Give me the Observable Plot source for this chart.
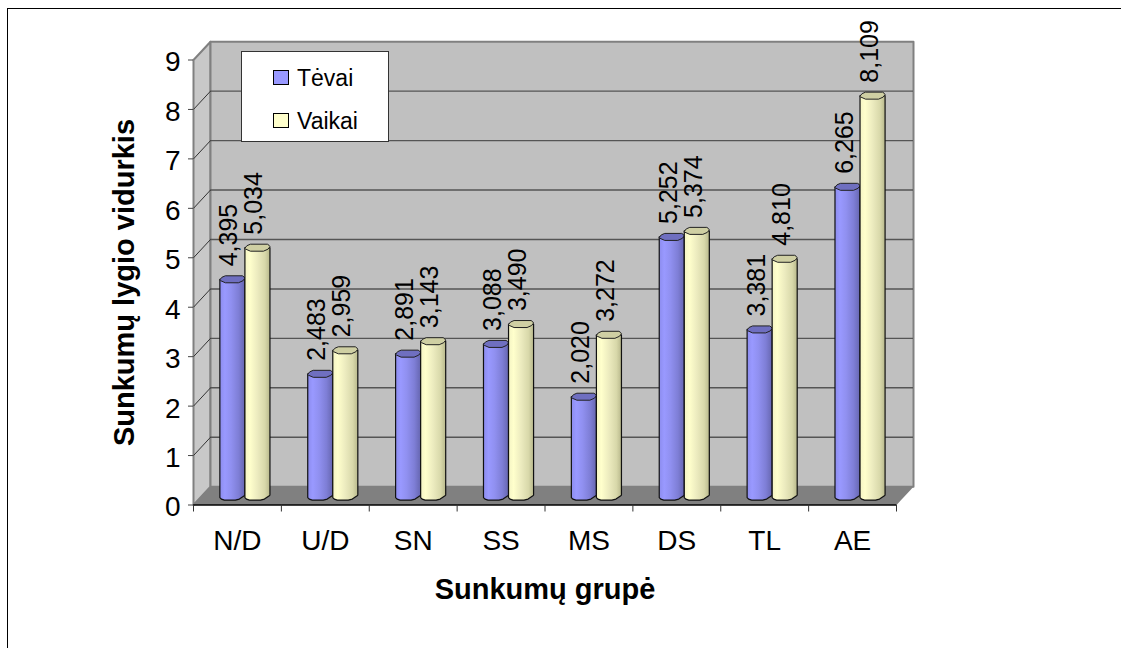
<!DOCTYPE html>
<html><head><meta charset="utf-8">
<script src="https://cdn.jsdelivr.net/npm/d3@7"></script>
<script src="https://cdn.jsdelivr.net/npm/@observablehq/plot@0.6"></script>
<style>
html,body{margin:0;padding:0;background:#fff;width:1121px;height:648px;overflow:hidden}
#wrap{position:relative;width:1121px;height:648px;overflow:hidden}
#border{position:absolute;left:7px;top:8px;width:1200px;height:700px;border:1px solid #000;border-top-width:1.5px;box-sizing:border-box;pointer-events:none}
#legend{position:absolute;left:241px;top:51px;width:148px;height:91px;background:#fff;border:1px solid #333;box-sizing:border-box;font:23px "Liberation Sans",Arial,sans-serif;color:#000}
.sw{position:absolute;left:31px;width:16px;height:15px;border:1px solid #000;box-sizing:border-box}
.lb{position:absolute;left:55px;line-height:26px}
svg{position:absolute;left:0;top:0}
</style></head><body><div id="wrap"><div id="border"></div></div>
<script>
const categories = ["N/D","U/D","SN","SS","MS","DS","TL","AE"];
const tevai  = [4.395,2.483,2.891,3.088,2.020,5.252,3.381,6.265];
const vaikai = [5.034,2.959,3.143,3.490,3.272,5.374,4.810,8.109];
const seriesNames = ["Tėvai","Vaikai"];
const seriesColors = ["#9999ff","#ffffcc"];
const capColors = ["#6f6fc0","#cfcfa3"];
const yTicks = [0,1,2,3,4,5,6,7,8,9];

// 3-D depth of the plot box, in data units
const depthX = 0.1935, depthY = 0.37;
const pxX = 1/87.875, pxY = 1/49.44;
const barStart = 0.3, barW = 0.285, baseLevel = 0.17;

const bars = [];
[tevai, vaikai].forEach((vals, s) => vals.forEach((v, i) => {
  bars.push({s, i, v, left: i + barStart + s*barW, id: s*100 + i});
}));
function bodyPoly(b){
  const l=b.left, r=b.left+barW, c=l+barW/2, top=b.v+baseLevel, bot=baseLevel;
  return [[l,top],[l,bot-1*pxY],[l+1.5*pxX,bot-2.5*pxY],[c-8*pxX,bot-3.5*pxY],[c+3*pxX,bot-3.5*pxY],[c+7*pxX,bot-2.5*pxY],[r-1*pxX,bot+.5*pxY],[r,bot+1.5*pxY],[r,top]]
    .map(([x,y])=>({x,y,id:b.id,s:b.s}));
}
function capPoly(b){
  const l=b.left, r=b.left+barW, c=l+barW/2, top=b.v+baseLevel;
  return [[l,top-.5*pxY],[l+2*pxX,top+2*pxY],[c-7*pxX,top+3.5*pxY],[c+10*pxX,top+3.5*pxY],[r-1*pxX,top+2.5*pxY],[r,top+1*pxY],[r-2*pxX,top-1.5*pxY],[c+6*pxX,top-3.5*pxY],[c-7*pxX,top-3.5*pxY],[l+1*pxX,top-1.5*pxY]]
    .map(([x,y])=>({x,y,id:b.id,s:b.s}));
}
const fmt = v => v.toFixed(3).replace(".",",");
const F = '"Liberation Sans",Arial,sans-serif';

const defs = () => {
  const d = d3.create("svg:defs");
  const mk = (id, stops) => {
    const g = d.append("linearGradient").attr("id",id).attr("x1",0).attr("x2",1).attr("y1",0).attr("y2",0);
    stops.forEach(([o,c])=>g.append("stop").attr("offset",o).attr("stop-color",c));
  };
  mk("g0",[[0,"#8c8cee"],[.2,"#9999ff"],[.45,"#9090f0"],[.75,"#7e7ed6"],[1,"#6666b0"]]);
  mk("g1",[[0,"#f4f4c4"],[.2,"#ffffcc"],[.5,"#ecebbf"],[.8,"#d8d8aa"],[1,"#b8b88c"]]);
  return d.node();
};

const poly = (pts, fill, stroke) => Plot.line(pts,{x:d=>d[0],y:d=>d[1],curve:"linear-closed",fill,stroke:stroke||"none",strokeWidth:stroke?2:0});
const dataBars = s => bars.filter(b=>b.s===s);
const barMarks = s => [
  Plot.line(dataBars(s).flatMap(bodyPoly),{x:"x",y:"y",z:"id",curve:"linear-closed",fill:`url(#g${s})`,stroke:"#111",strokeWidth:1.2}),
  Plot.line(dataBars(s).flatMap(capPoly),{x:"x",y:"y",z:"id",curve:"linear-closed",fill:capColors[s],stroke:"#222",strokeWidth:1})
];

const chart = Plot.plot({
  width:1121, height:648,
  marginLeft:193, marginRight:225, marginTop:59.5, marginBottom:143.5,
  style:{background:"transparent",fontFamily:F,overflow:"visible"},
  x:{domain:[0,8]}, y:{domain:[0,9]},
  marks:[
    defs,
    poly([[0,0],[depthX,depthY],[depthX,9+depthY],[0,9]],"#c8c8c8","#808080"),
    poly([[depthX,depthY],[8+depthX,depthY],[8+depthX,9+depthY],[depthX,9+depthY]],"#c0c0c0","#808080"),
    Plot.ruleY(yTicks.slice(1,-1),{x1:depthX,x2:8+depthX,y:d=>d+depthY,stroke:"#555",strokeWidth:1.4}),
    Plot.link(yTicks.slice(1,-1),{x1:0,y1:d=>d,x2:depthX,y2:d=>d+depthY,stroke:"#333",strokeWidth:1}),
    poly([[0,0],[8,0],[8+depthX,depthY],[depthX,depthY]],"#808080"),
    Plot.ruleY([0],{x1:0,x2:8,stroke:"#000",strokeWidth:1.5}),
    ...barMarks(0), ...barMarks(1),
    Plot.text(bars,{x:d=>d.left+barW/2,y:d=>d.v+baseLevel,text:d=>fmt(d.v),rotate:-90,textAnchor:"start",dy:-13,dx:-3,fontSize:25,fill:"#000",fontFamily:F}),
    Plot.axisY({ticks:yTicks,tickSize:5,tickPadding:8,fontSize:28,dy:0,stroke:"#444",fill:"#000",textStroke:"none",
      label:"Sunkumų lygio vidurkis",labelAnchor:"center",labelArrow:"none",labelOffset:80}),
    Plot.axisX({ticks:d3.range(0,9),tickSize:7,tickFormat:()=>"",stroke:"#333",label:null}),
    Plot.axisX({ticks:categories.map((_,i)=>i+.5),tickSize:0,tickPadding:25,tickFormat:d=>categories[d-.5],fontSize:28,fill:"#000",
      label:"Sunkumų grupė",labelAnchor:"center",labelArrow:"none",labelOffset:94})
  ]
});
d3.select(chart).selectAll('[aria-label="y-axis label"] text, [aria-label="x-axis label"] text, g[aria-label="y-axis label"], g[aria-label="x-axis label"]')
  .attr("font-weight","bold").attr("font-size",29).style("font-size","29px");
d3.select(chart).selectAll('g[aria-label="y-axis tick label"]').attr("transform",function(){return (this.getAttribute("transform")||"")+" translate(0,2.5)";});
const wrap = document.getElementById("wrap");
wrap.appendChild(chart);
const leg = document.createElement("div"); leg.id="legend";
seriesNames.forEach((n,i)=>{
  const t=i?44:0.5;
  const sw=document.createElement("div"); sw.className="sw"; sw.style.top=(17+t)+"px"; sw.style.background=seriesColors[i];
  const lb=document.createElement("div"); lb.className="lb"; lb.style.top=(12+t)+"px"; lb.textContent=n;
  leg.append(sw,lb);
});
wrap.appendChild(leg);
</script></body></html>
